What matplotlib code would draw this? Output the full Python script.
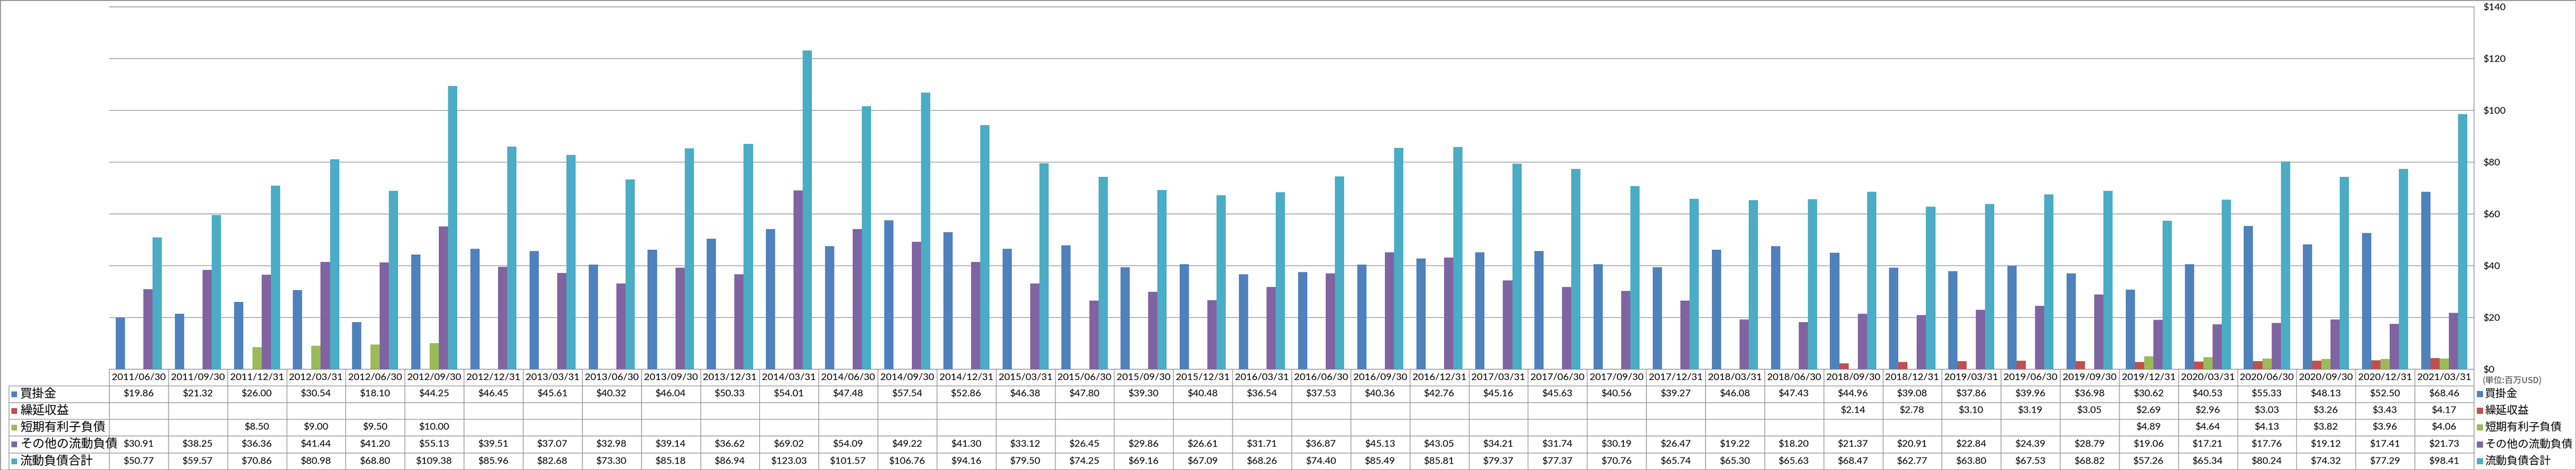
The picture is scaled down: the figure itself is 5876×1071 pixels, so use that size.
import numpy as np
import matplotlib
matplotlib.use("Agg")
import matplotlib.pyplot as plt
from matplotlib.lines import Line2D
from matplotlib.patches import Rectangle
from matplotlib.transforms import blended_transform_factory

plt.rcParams['font.family'] = ['Lato', 'Noto Sans CJK JP', 'DejaVu Sans']

dates = ['2011/06/30', '2011/09/30', '2011/12/31', '2012/03/31', '2012/06/30', '2012/09/30',
         '2012/12/31', '2013/03/31', '2013/06/30', '2013/09/30', '2013/12/31', '2014/03/31',
         '2014/06/30', '2014/09/30', '2014/12/31', '2015/03/31', '2015/06/30', '2015/09/30',
         '2015/12/31', '2016/03/31', '2016/06/30', '2016/09/30', '2016/12/31', '2017/03/31',
         '2017/06/30', '2017/09/30', '2017/12/31', '2018/03/31', '2018/06/30', '2018/09/30',
         '2018/12/31', '2019/03/31', '2019/06/30', '2019/09/30', '2019/12/31', '2020/03/31',
         '2020/06/30', '2020/09/30', '2020/12/31', '2021/03/31']

payables = [19.86, 21.32, 26.00, 30.54, 18.10, 44.25, 46.45, 45.61, 40.32, 46.04,
            50.33, 54.01, 47.48, 57.54, 52.86, 46.38, 47.80, 39.30, 40.48, 36.54,
            37.53, 40.36, 42.76, 45.16, 45.63, 40.56, 39.27, 46.08, 47.43, 44.96,
            39.08, 37.86, 39.96, 36.98, 30.62, 40.53, 55.33, 48.13, 52.50, 68.46]
deferred = [None] * 29 + [2.14, 2.78, 3.10, 3.19, 3.05, 2.69, 2.96, 3.03, 3.26, 3.43, 4.17]
short_debt = [None, None, 8.50, 9.00, 9.50, 10.00] + [None] * 28 + [4.89, 4.64, 4.13, 3.82, 3.96, 4.06]
other = [30.91, 38.25, 36.36, 41.44, 41.20, 55.13, 39.51, 37.07, 32.98, 39.14,
         36.62, 69.02, 54.09, 49.22, 41.30, 33.12, 26.45, 29.86, 26.61, 31.71,
         36.87, 45.13, 43.05, 34.21, 31.74, 30.19, 26.47, 19.22, 18.20, 21.37,
         20.91, 22.84, 24.39, 28.79, 19.06, 17.21, 17.76, 19.12, 17.41, 21.73]
total = [50.77, 59.57, 70.86, 80.98, 68.80, 109.38, 85.96, 82.68, 73.30, 85.18,
         86.94, 123.03, 101.57, 106.76, 94.16, 79.50, 74.25, 69.16, 67.09, 68.26,
         74.40, 85.49, 85.81, 79.37, 77.37, 70.76, 65.74, 65.30, 65.63, 68.47,
         62.77, 63.80, 67.53, 68.82, 57.26, 65.34, 80.24, 74.32, 77.29, 98.41]

names = ['買掛金', '繰延収益', '短期有利子負債', 'その他の流動負債', '流動負債合計']
colors = ['#4F81BD', '#C0504D', '#9BBB59', '#8064A2', '#4BACC6']
series = [payables, deferred, short_debt, other, total]

W, H = 5876, 1071
GRAY = '#868686'


def fx(px):
    return px / W


def fy(py):
    return 1 - py / H


fig = plt.figure(figsize=(W / 100, H / 100), dpi=100)
ax = fig.add_axes([fx(249), fy(841), fx(5643 - 249), (841 - 15) / H])

n = len(dates)
x = np.arange(n)
bw = 0.156
for k, (vals, c) in enumerate(zip(series, colors)):
    xs = [x[i] + (k - 2) * bw for i in range(n) if vals[i] is not None]
    hs = [v for v in vals if v is not None]
    ax.bar(xs, hs, width=bw, color=c, zorder=2)

ax.set_xlim(-0.5, n - 0.5)
ax.set_ylim(0, 140)
ax.set_yticks(range(0, 141, 20))
ax.set_yticklabels([f'${v}' for v in range(0, 141, 20)])
ax.yaxis.tick_right()
ax.tick_params(axis='y', length=0, pad=16, labelsize=16)
ax.set_xticks([])
ax.yaxis.grid(True, color=GRAY, lw=1.0)
ax.set_axisbelow(True)
for s in ['left', 'bottom']:
    ax.spines[s].set_visible(False)
for s in ['top', 'right']:
    ax.spines[s].set_color(GRAY)
    ax.spines[s].set_linewidth(1.0)

# data table under the plot
tr = blended_transform_factory(ax.transData, fig.transFigure)
row_lines = [841, 879, 917, 955, 993, 1032, 1070]
x_left = -0.5
x_right = n - 0.5

# horizontal lines
fig.add_artist(Line2D([x_left, x_right], [fy(841)] * 2, transform=tr, color=GRAY, lw=1.0))
for yy in row_lines[1:]:
    fig.add_artist(Line2D([fx(20), fx(5643)], [fy(yy)] * 2, transform=fig.transFigure, color=GRAY, lw=1.0))
# vertical lines
for i in range(n + 1):
    fig.add_artist(Line2D([i - 0.5] * 2, [fy(841), fy(1070)], transform=tr, color=GRAY, lw=1.0))
fig.add_artist(Line2D([fx(20)] * 2, [fy(879), fy(1070)], transform=fig.transFigure, color=GRAY, lw=1.0))

# header dates
for i, d in enumerate(dates):
    fig.text(i, fy(860), d, transform=tr, ha='center', va='center', fontsize=16)

# row values
for r, vals in enumerate(series):
    yc = fy((row_lines[r + 1] + row_lines[r + 2]) / 2)
    for i, v in enumerate(vals):
        if v is not None:
            fig.text(i, yc, f'${v:.2f}', transform=tr, ha='center', va='center', fontsize=16)
    # row label with key
    fig.add_artist(Rectangle((fx(26), yc - 6.5 / H), 13 / W, 13 / H, transform=fig.transFigure,
                             facecolor=colors[r], edgecolor='none'))
    fig.text(fx(46), yc, names[r], ha='left', va='center', fontsize=20,
             family=['Noto Sans CJK JP'])
    # legend on the right
    fig.add_artist(Rectangle((fx(5650), yc - 7 / H), 14 / W, 14 / H, transform=fig.transFigure,
                             facecolor=colors[r], edgecolor='none'))
    fig.text(fx(5668), yc, names[r], ha='left', va='center', fontsize=18,
             family=['Noto Sans CJK JP'])

fig.text(fx(5662), fy(868), '(単位:百万USD)', ha='left', va='center', fontsize=14,
         color='#404040', family=['Noto Sans CJK JP'])

# outer frame
fig.add_artist(Rectangle((0, 0), 1, 1, transform=fig.transFigure, fill=False,
                         edgecolor=GRAY, lw=2))

fig.savefig('out.png', dpi=100)
